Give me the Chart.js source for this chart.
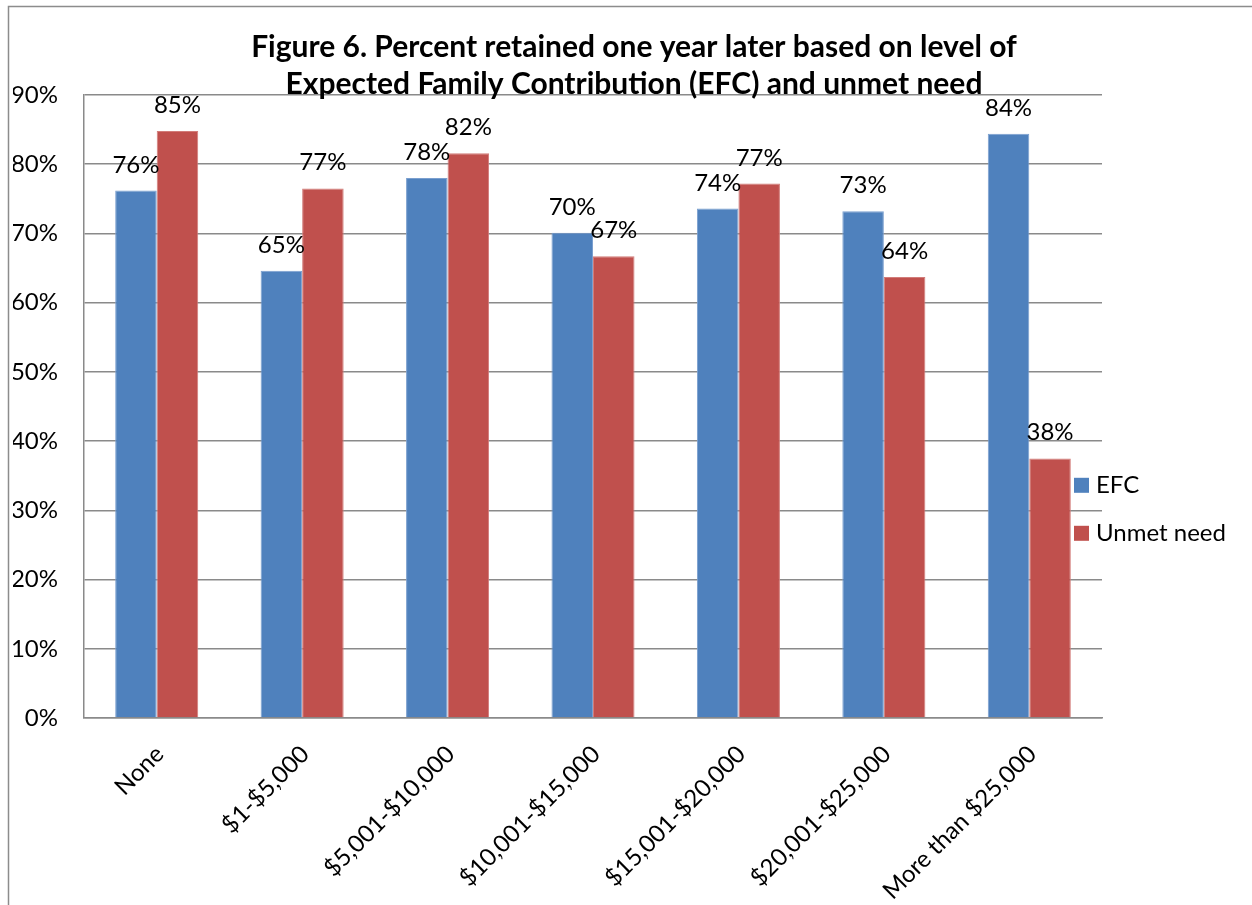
<!DOCTYPE html>
<html>
<head>
<meta charset="utf-8">
<title>Figure 6</title>
<script src="https://cdn.jsdelivr.net/npm/chart.js@4"></script>
<style>
    html, body { margin: 0; padding: 0; background: #fff; }
    .chart-wrap { position: relative; width: 1252px; height: 905px; }
</style>
</head>
<body>
<div class="chart-wrap">
    <canvas id="retentionChart"></canvas>
</div>
<script>
// --- DADOS ---
const categories = ['None', '$1-$5,000', '$5,001-$10,000', '$10,001-$15,000',
    '$15,001-$20,000', '$20,001-$25,000', 'More than $25,000'];
const efcValues = [76.2, 64.6, 78.0, 70.1, 73.6, 73.2, 84.4];
const unmetValues = [84.8, 76.5, 81.6, 66.7, 77.2, 63.7, 37.5];
const titleLines = ['Figure 6. Percent retained one year later based on level of',
    'Expected Family Contribution (EFC) and unmet need'];
const yTicks = [0, 10, 20, 30, 40, 50, 60, 70, 80, 90];

document.addEventListener('DOMContentLoaded', () => {

    const FONT = "Lato, 'Open Sans', sans-serif";
    const GRID = '#8a8a8a';

    // moldura cinza (só topo e esquerda aparecem no recorte)
    const framePlugin = {
        id: 'frame',
        beforeDraw(chart) {
            const c = chart.ctx;
            c.save();
            c.fillStyle = '#fff';
            c.fillRect(0, 0, chart.width, chart.height);
            c.strokeStyle = '#8c8c8c';
            c.lineWidth = 1.5;
            c.strokeRect(8.5, 6.5, chart.width + 20, chart.height + 20);
            c.restore();
        }
    };

    // título em duas linhas, encostando na grade de 90% como no original
    const titlePlugin = {
        id: 'figTitle',
        afterDraw(chart) {
            const c = chart.ctx;
            c.save();
            c.font = 'bold 30px ' + FONT;
            c.fillStyle = '#000';
            c.textAlign = 'center';
            c.textBaseline = 'alphabetic';
            titleLines.forEach((line, i) => {
                c.fillText(line, chart.width / 2 + 8, 57 + i * 37);
            });
            c.restore();
        }
    };

    // rótulos de valor acima das barras
    const valueLabels = {
        id: 'valueLabels',
        afterDatasetsDraw(chart) {
            const c = chart.ctx;
            c.save();
            c.font = '24px ' + FONT;
            c.fillStyle = '#000';
            c.textAlign = 'center';
            c.textBaseline = 'alphabetic';
            chart.data.datasets.forEach((ds, i) => {
                chart.getDatasetMeta(i).data.forEach((bar, j) => {
                    c.fillText(Math.round(ds.data[j]) + '%', bar.x, bar.y - 18);
                });
            });
            c.restore();
        }
    };

    // legenda desenhada sobre a área do gráfico, como no Excel
    const overlayLegend = {
        id: 'overlayLegend',
        afterDraw(chart) {
            const c = chart.ctx;
            const area = chart.chartArea;
            const x = area.right - 28;
            const mid = area.top + area.height * 0.665;
            const rowH = 48;
            const n = chart.data.datasets.length;
            c.save();
            c.font = '24px ' + FONT;
            c.textBaseline = 'middle';
            c.textAlign = 'left';
            chart.data.datasets.forEach((ds, i) => {
                const y = mid + (i - (n - 1) / 2) * rowH;
                c.fillStyle = ds.backgroundColor;
                c.fillRect(x, y - 7.5, 15, 15);
                c.fillStyle = '#000';
                c.fillText(ds.label, x + 22, y);
            });
            c.restore();
        }
    };

    const ctx = document.getElementById('retentionChart');
    new Chart(ctx, {
        type: 'bar',
        data: {
            labels: categories,
            datasets: [
                {
                    label: 'EFC',
                    data: efcValues,
                    backgroundColor: '#4F81BD',
                    borderColor: '#7a9fcf',
                    borderWidth: 1,
                    categoryPercentage: 0.571,
                    barPercentage: 1.0
                },
                {
                    label: 'Unmet need',
                    data: unmetValues,
                    backgroundColor: '#C0504D',
                    borderColor: '#d27c79',
                    borderWidth: 1,
                    categoryPercentage: 0.571,
                    barPercentage: 1.0
                }
            ]
        },
        options: {
            responsive: true,
            maintainAspectRatio: false,
            animation: false,
            layout: { padding: { left: 13, right: 150, top: 95, bottom: 0 } },
            plugins: {
                legend: { display: false },
                tooltip: { enabled: false },
                title: { display: false }
            },
            scales: {
                x: {
                    grid: { display: false },
                    border: { color: GRID, width: 1.5 },
                    ticks: {
                        color: '#000',
                        font: { family: FONT, size: 24 },
                        minRotation: 45,
                        maxRotation: 45,
                        autoSkip: false,
                        padding: 14,
                        labelOffset: 3
                    },
                    afterFit(axis) {
                        axis.paddingLeft = 0;
                        axis.paddingRight = 0;
                        axis.height = 187;
                    }
                },
                y: {
                    min: 0,
                    max: 90,
                    afterBuildTicks(axis) {
                        axis.ticks = yTicks.map(v => ({ value: v }));
                    },
                    grid: { color: GRID, lineWidth: 1.5, drawTicks: false },
                    border: { color: GRID, width: 1.5 },
                    ticks: {
                        color: '#000',
                        padding: 26,
                        font: { family: FONT, size: 24 },
                        callback: v => v + '%'
                    },
                    afterFit(axis) {
                        axis.width = 71;
                        axis.paddingTop = 0;
                        axis.paddingBottom = 0;
                    }
                }
            }
        },
        plugins: [framePlugin, valueLabels, overlayLegend, titlePlugin]
    });
});
</script>
</body>
</html>
